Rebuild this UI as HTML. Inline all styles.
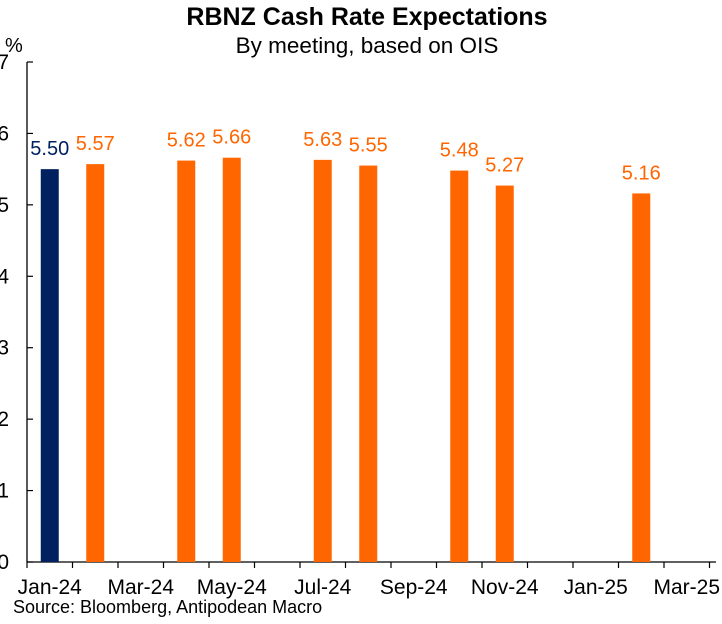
<!DOCTYPE html>
<html><head><meta charset="utf-8"><style>
body{margin:0;background:#fff;width:722px;height:619px;overflow:hidden}
svg text{font-family:"Liberation Sans",Arial,sans-serif}
</style></head><body>
<svg id="c" width="722" height="619" xmlns="http://www.w3.org/2000/svg">
<text x="367" y="25" font-size="25" font-weight="bold" text-anchor="middle">RBNZ Cash Rate Expectations</text>
<text x="367" y="53" font-size="22.5" text-anchor="middle">By meeting, based on OIS</text>
<text x="5" y="52" font-size="20">%</text>
<text x="13" y="613" font-size="18">Source: Bloomberg, Antipodean Macro</text>
<g id="axes"></g><g id="bars"></g>
</svg>
<script>
const months=[0,1,3,4,6,7,9,10,13];
const values=[5.50,5.57,5.62,5.66,5.63,5.55,5.48,5.27,5.16];
const labels=["5.50","5.57","5.62","5.66","5.63","5.55","5.48","5.27","5.16"];
const yTicks=[0,1,2,3,4,5,6,7];
const xTickLabels=["Jan-24","Mar-24","May-24","Jul-24","Sep-24","Nov-24","Jan-25","Mar-25"];
const NS="http://www.w3.org/2000/svg";
const x0=27,mw=45.5,yb=562,yt=62;
const xm=m=>x0+mw*(m+0.5);
const yv=v=>yb-(yb-yt)*v/7;
function mk(t,a,p){const e=document.createElementNS(NS,t);for(const k in a)e.setAttribute(k,a[k]);p.appendChild(e);return e;}
const ax=document.getElementById('axes'),bg=document.getElementById('bars');
let l=mk('line',{x1:x0,y1:yt,x2:x0,y2:yb,stroke:'#000','stroke-width':1.3},ax);


l=mk('line',{x1:x0,y1:yb,x2:716,y2:yb,stroke:'#000','stroke-width':1.3},ax);


yTicks.forEach(v=>{
 const t=mk('line',{x1:x0,y1:yv(v),x2:x0+6,y2:yv(v),stroke:'#000','stroke-width':1.2},ax);
 
 
 const tx=mk('text',{x:9,y:yv(v)+7,'font-size':21,'text-anchor':'end'},ax);
 tx.textContent=v;
 
 
});
for(let k=0;k<=15;k++){
 const t=mk('line',{x1:x0+mw*k,y1:yb,x2:x0+mw*k,y2:yb+6,stroke:'#000','stroke-width':1.2},ax);
 
 
}
xTickLabels.forEach((s,i)=>{
 const tx=mk('text',{x:xm(i*2),y:594,'font-size':21,'text-anchor':'middle'},ax);
 tx.textContent=s;
 
 
});
months.forEach((m,i)=>{
 const col=i===0?'#002060':'#ff6600';
 const r=mk('rect',{x:xm(m)-9,y:yv(values[i]),width:18,height:yb-yv(values[i]),fill:col},bg);
 
 
 const tx=mk('text',{x:xm(m),y:yv(values[i])-14,'font-size':20,'text-anchor':'middle',fill:col},bg);
 tx.textContent=labels[i];
 
 
});
</script>
</body></html>
